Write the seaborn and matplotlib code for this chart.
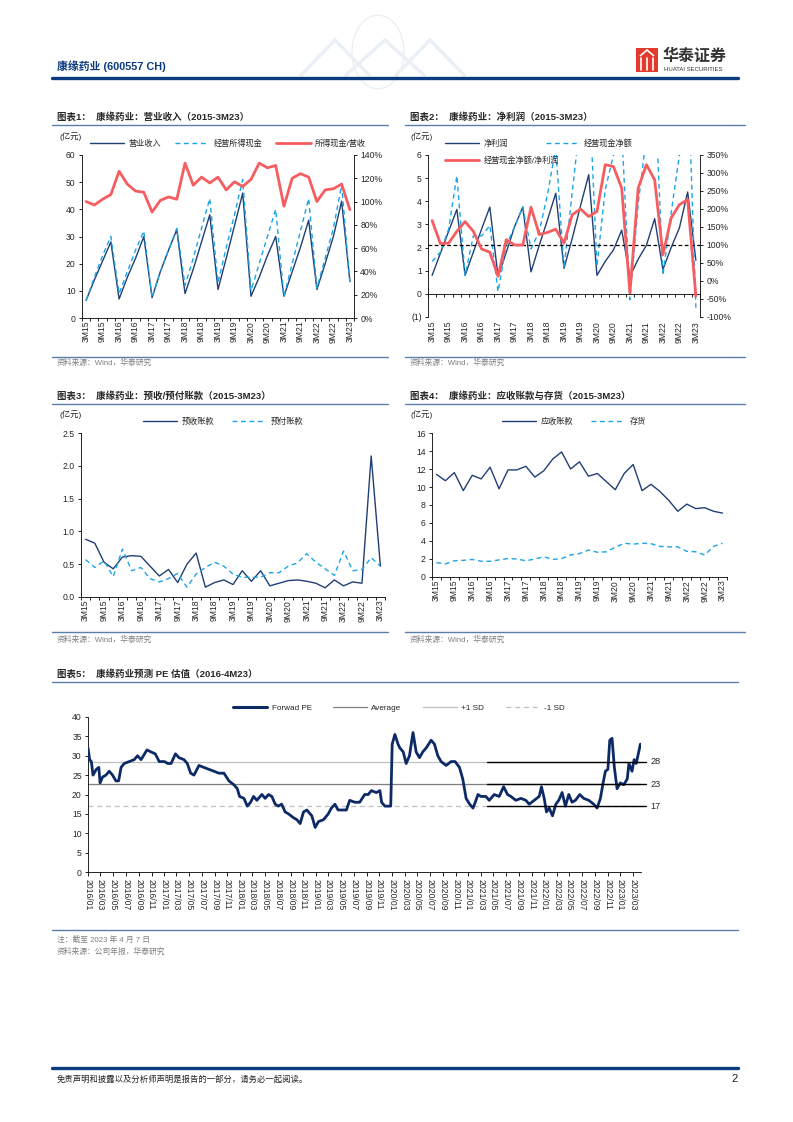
import numpy as np
import pandas as pd
import matplotlib
matplotlib.use("Agg")
import matplotlib.pyplot as plt
import seaborn as sns
from matplotlib.lines import Line2D
from matplotlib.patches import Rectangle, Polygon, Circle

sns.set_theme(style="ticks")
plt.rcParams["font.family"] = ["Liberation Sans", "Noto Sans CJK SC", "DejaVu Sans"]
plt.rcParams["axes.unicode_minus"] = False

W, H = 793, 1122

# ------------------------------------------------------------------ data
quarter_idx = list(range(33))
tick_labels = ["3M15", "9M15", "3M16", "9M16", "3M17", "9M17", "3M18", "9M18", "3M19",
               "9M19", "3M20", "9M20", "3M21", "9M21", "3M22", "9M22", "3M23"]

# Chart 1 (亿元, %)
revenue = [6.5, 14, 21, 28, 7, 15, 22, 30, 7.5, 17, 25, 32.5, 9, 18, 28, 38,
           10.5, 22, 34, 46, 8, 15, 23, 30, 8, 17, 26, 36, 10.5, 20, 30, 43, 13.5]
cash_received = [6.5, 15, 23, 30, 9, 17, 25, 32, 7.5, 17, 25, 33, 12, 22, 33, 44,
                 13, 26, 38, 51, 10, 20, 30, 40, 8, 20, 32, 44, 11, 22, 33, 49, 13]
cash_rev_ratio = [100, 97, 102, 106, 126, 115, 109, 108, 91, 101, 104, 102, 133, 114, 121, 116,
                  121, 110, 117, 113, 119, 133, 129, 131, 96, 120, 124, 121, 100, 110, 111, 115, 93]

# Chart 2
net_profit = [0.8, 1.75, 2.7, 3.65, 0.8, 1.8, 2.8, 3.75, 0.75, 1.8, 2.9, 3.75, 0.95, 2.1, 3.2, 4.35,
              1.1, 2.4, 3.8, 5.15, 0.8, 1.4, 1.9, 2.75, 0.75, 1.5, 2.1, 3.25, 1.05, 2.0, 2.85, 4.4, 1.45]
op_cash = [1.4, 1.8, 2.8, 5.1, 0.8, 2.5, 2.5, 2.95, 0.1, 2.1, 2.9, 3.75, 1.95, 2.7, 4.3, 6.3,
           1.1, 4.4, 7.6, 9.2, 1.2, 4.5, 6.0, 7.1, -0.25, 3.9, 6.8, 9.1, 0.8, 3.5, 6.0, 9.9, -0.6]
cash_profit_ratio = [168, 104, 105, 138, 165, 138, 89, 80, 13, 115, 100, 100, 205, 129, 135, 144,
                     105, 184, 200, 179, 193, 323, 318, 258, -33, 258, 323, 281, 73, 175, 212, 226, -42]

# Chart 3
adv_received = [0.88, 0.82, 0.53, 0.43, 0.61, 0.63, 0.62, 0.47, 0.32, 0.42, 0.22, 0.50, 0.67, 0.15, 0.22, 0.26,
                0.19, 0.40, 0.24, 0.40, 0.17, 0.21, 0.25, 0.26, 0.24, 0.21, 0.14, 0.26, 0.17, 0.23, 0.21, 2.15, 0.47]
prepayments = [0.57, 0.45, 0.55, 0.31, 0.73, 0.40, 0.45, 0.28, 0.23, 0.28, 0.36, 0.15, 0.35, 0.45, 0.53, 0.47,
               0.35, 0.30, 0.30, 0.30, 0.37, 0.37, 0.47, 0.52, 0.66, 0.53, 0.43, 0.33, 0.70, 0.40, 0.42, 0.60, 0.47]

# Chart 4
receivables = [11.4, 10.7, 11.6, 9.6, 11.3, 10.9, 12.2, 9.8, 11.9, 11.9, 12.3, 11.1, 11.8, 13.1, 13.9, 12.0,
               12.8, 11.2, 11.5, 10.6, 9.7, 11.5, 12.5, 9.6, 10.3, 9.5, 8.5, 7.3, 8.1, 7.6, 7.7, 7.3, 7.1]
inventory = [1.6, 1.45, 1.8, 1.85, 1.95, 1.75, 1.75, 1.9, 2.05, 2.0, 1.8, 2.0, 2.25, 1.95, 2.05, 2.45,
             2.6, 3.0, 2.75, 2.8, 3.3, 3.75, 3.65, 3.75, 3.7, 3.4, 3.35, 3.35, 2.85, 2.8, 2.45, 3.4, 3.75]

# Chart 5: forward PE
pe_dates = [
    "2016-01-01", "2016-01-09", "2016-01-17", "2016-01-25", "2016-02-10", "2016-02-22", "2016-02-28",
    "2016-03-11", "2016-03-27", "2016-04-12", "2016-04-28", "2016-05-14", "2016-05-27", "2016-06-08",
    "2016-06-23", "2016-07-17", "2016-08-10", "2016-08-26", "2016-09-12", "2016-10-10", "2016-10-29",
    "2016-11-19", "2016-12-08", "2017-01-02", "2017-01-18", "2017-02-03", "2017-02-24", "2017-03-13",
    "2017-04-06", "2017-04-22", "2017-05-08", "2017-05-24", "2017-06-17", "2017-07-10", "2017-08-04",
    "2017-08-28", "2017-09-21", "2017-10-15", "2017-11-08", "2017-12-02", "2017-12-18", "2017-12-29",
    "2018-01-19", "2018-02-04", "2018-02-20", "2018-03-06", "2018-03-22", "2018-04-15", "2018-05-01",
    "2018-05-17", "2018-06-02", "2018-06-18", "2018-07-03", "2018-07-19", "2018-08-05", "2018-08-21",
    "2018-09-14", "2018-09-30", "2018-10-16", "2018-11-01", "2018-11-17", "2018-12-11", "2018-12-27",
    "2019-01-12", "2019-02-05", "2019-02-28", "2019-03-15", "2019-04-01", "2019-04-16", "2019-05-02",
    "2019-05-26", "2019-06-11", "2019-07-05", "2019-07-29", "2019-08-22", "2019-09-08", "2019-09-23",
    "2019-10-17", "2019-11-03", "2019-11-11", "2019-11-27", "2019-12-12", "2019-12-25", "2020-01-01",
    "2020-01-14", "2020-01-29", "2020-02-07", "2020-02-23", "2020-03-08", "2020-03-24", "2020-04-10",
    "2020-04-25", "2020-05-11", "2020-05-27", "2020-06-12", "2020-07-06", "2020-07-22", "2020-08-07",
    "2020-08-23", "2020-09-16", "2020-10-10", "2020-10-29", "2020-11-19", "2020-12-05", "2020-12-21",
    "2021-01-07", "2021-01-23", "2021-02-03", "2021-02-16", "2021-03-02", "2021-03-26", "2021-04-11",
    "2021-05-05", "2021-05-29", "2021-06-19", "2021-07-08", "2021-07-24", "2021-08-17", "2021-09-10",
    "2021-10-04", "2021-10-20", "2021-11-13", "2021-12-07", "2021-12-18", "2021-12-31", "2022-01-11",
    "2022-01-24", "2022-02-09", "2022-02-25", "2022-03-11", "2022-03-27", "2022-04-12", "2022-04-28",
    "2022-05-14", "2022-05-30", "2022-06-20", "2022-07-09", "2022-08-02", "2022-08-26", "2022-09-11",
    "2022-09-27", "2022-10-10", "2022-10-21", "2022-11-02", "2022-11-11", "2022-11-22", "2022-12-03",
    "2022-12-16", "2023-01-01", "2023-01-17", "2023-02-03", "2023-02-11", "2023-02-26", "2023-03-08",
    "2023-03-18", "2023-04-07"]
pe_values = [
    32, 29, 28.5, 25, 26.5, 27, 23,
    24.5, 25, 26, 25, 23.5, 23.5, 27,
    28, 28.5, 29, 30, 29, 31.5, 31,
    30.5, 28.5, 28.5, 28, 28, 30.5, 29.5,
    29, 28, 25.5, 25, 27.5, 27, 26.5,
    26, 25.5, 25.5, 23.5, 22.5, 21.5, 19.5,
    19, 17, 18, 19.5, 18.5, 20, 19,
    20, 19.5, 17.5, 17, 17.5, 15.5, 15,
    14, 13.5, 12.5, 15.5, 16, 14.5, 11.5,
    13, 13.5, 15, 16.5, 17.5, 16, 16,
    16, 18.5, 18, 18, 20, 20, 21,
    20.5, 21, 18, 17, 17, 17, 33,
    35.5, 33, 32, 31, 28, 30, 36,
    31, 29.5, 31, 32, 34, 33, 30,
    28.5, 27.5, 28.5, 28.5, 27, 24, 19,
    17.5, 16.5, 18, 20, 19.5, 19.5, 18.5,
    20, 19.5, 22, 20, 19.5, 18.5, 19,
    18.5, 17.5, 18.5, 19.5, 22, 19, 15.5,
    16.5, 14.5, 17.5, 18.5, 20.5, 17, 20,
    18, 18.5, 20, 19, 18.5, 17.5, 16.5,
    19, 23, 26, 26.5, 34, 34.5, 27,
    21.5, 23, 22.5, 24, 28, 26, 29,
    28, 33]
pe_mean = 22.7
pe_sd = 5.7
pe_ticks = pd.date_range("2016-01-01", "2023-03-01", freq="2MS")

# ------------------------------------------------------------------ styling
NAVY = "#203F74"
LBLUE = "#1CA5E6"
RED = "#F65D61"
PE_NAVY = "#0E2A66"
TITLE_LINE = "#5B7DAA"
DARKBLUE = "#0B3A7E"
GREY_TXT = "#7F7F7F"
DASH = (0, (3.5, 2.6))
TICK_FS = 6.2
LEG_FS = 5.9

fig = plt.figure(figsize=(W / 100, H / 100), dpi=100)


def fx(x):
    return x / W


def fy(y):
    return 1 - y / H


def px_ax(l, t, r, b):
    return fig.add_axes([l / W, 1 - b / H, (r - l) / W, (b - t) / H])


def hline(x0, x1, y, color, lw):
    fig.add_artist(Line2D([fx(x0), fx(x1)], [fy(y), fy(y)], transform=fig.transFigure,
                          color=color, lw=lw))


def ftext(x, y, s, **kw):
    kw.setdefault("va", "center")
    fig.text(fx(x), fy(y), s, **kw)


def base_spines(ax, right=False):
    for side in ["top", "right", "left", "bottom"]:
        ax.spines[side].set_visible(False)
    ax.spines["left"].set_visible(not right)
    ax.spines["right"].set_visible(right)
    if not right:
        ax.spines["bottom"].set_visible(True)
    for s in ax.spines.values():
        s.set_color("black")
        s.set_linewidth(0.6)
    ax.tick_params(axis="y", labelsize=TICK_FS, length=2.5, width=0.6, pad=2, color="black")


def style_quarter_x(ax, pad=2):
    ax.set_xlim(-0.5, 32.5)
    ax.set_xticks(quarter_idx[::2])
    ax.set_xticklabels(tick_labels, rotation=90, fontsize=TICK_FS)
    ax.set_xticks(np.arange(-0.5, 33.0, 1.0), minor=True)
    ax.tick_params(axis="x", which="major", length=0, pad=pad)
    ax.tick_params(axis="x", which="minor", length=2.5, width=0.6, color="black", direction="out")
    ax.set_xlabel("")
    ax.set_ylabel("")


def legend_row(items, x, y, colspacing=1.6):
    handles = [Line2D([], [], color=c, lw=lw, linestyle=ls) for (_, c, lw, ls) in items]
    labels = [t for (t, _, _, _) in items]
    fig.legend(handles, labels, loc="center left", bbox_to_anchor=(fx(x), fy(y)),
               ncol=len(items), frameon=False, fontsize=LEG_FS, handlelength=4.2,
               handletextpad=0.5, columnspacing=colspacing, borderaxespad=0, borderpad=0)


# ------------------------------------------------------------------ header
ftext(57, 66, "康缘药业 (600557 CH)", fontsize=7.8, fontweight="bold", color=DARKBLUE)
hline(52, 738, 77.5, DARKBLUE, 2.4)
# faint globe / chevron watermark
fig.add_artist(Circle((fx(378), fy(52)), 26 / W, transform=fig.transFigure, fill=False,
                      ec="#E6ECF2", lw=0.8))
for (a, b, c) in [(300, 335, 370), (345, 385, 425), (395, 430, 465)]:
    fig.add_artist(Polygon([[fx(a), fy(76)], [fx(b), fy(40)], [fx(c), fy(76)]], closed=False,
                           fill=False, transform=fig.transFigure, ec="#EAF0F6", lw=2.5))
# logo
fig.add_artist(Rectangle((fx(636), fy(72)), 22 / W, 24 / H, transform=fig.transFigure,
                         fc="#E23B2E", ec="none"))
for xx in (641, 647, 653):
    fig.add_artist(Line2D([fx(xx), fx(xx)], [fy(58), fy(70)], transform=fig.transFigure,
                          color="white", lw=1.2))
fig.add_artist(Polygon([[fx(640), fy(56)], [fx(647), fy(50)], [fx(654), fy(56)]], closed=False,
                       fill=False, transform=fig.transFigure, ec="white", lw=1.2))
ftext(663, 56, "华泰证券", fontsize=11.5, fontweight="bold", color="#333333",
      family=["Noto Sans CJK SC"])
ftext(664, 69.5, "HUATAI SECURITIES", fontsize=4.3, color="#333333")

# ------------------------------------------------------------------ chart 1
ftext(57, 117, "图表1：  康缘药业：营业收入（2015-3M23）", fontsize=6.8, fontweight="bold")
hline(52, 388, 124.5, TITLE_LINE, 1.0)
ftext(60, 137, "(亿元)", fontsize=6.0)
legend_row([("营业收入", NAVY, 1.0, "-"), ("经营所得现金", LBLUE, 1.0, DASH),
            ("所得现金/营收", RED, 2.0, "-")], 90, 143.5, colspacing=1.7)

ax1 = px_ax(82, 155, 354, 318)
sns.lineplot(x=quarter_idx, y=revenue, ax=ax1, color=NAVY, lw=1.0, legend=False)
sns.lineplot(x=quarter_idx, y=cash_received, ax=ax1, color=LBLUE, lw=1.0, linestyle=DASH,
             legend=False)
ax1.set_ylim(0, 60)
ax1.set_yticks(range(0, 61, 10))
base_spines(ax1)
style_quarter_x(ax1)
ax1b = ax1.twinx()
sns.lineplot(x=quarter_idx, y=cash_rev_ratio, ax=ax1b, color=RED, lw=2.0, legend=False)
ax1b.set_ylim(0, 140)
ax1b.set_yticks(range(0, 141, 20))
ax1b.set_yticklabels([f"{v}%" for v in range(0, 141, 20)])
base_spines(ax1b, right=True)
ax1b.set_ylabel("")
ax1b.set_xlim(-0.5, 32.5)

hline(52, 388, 357, TITLE_LINE, 1.0)
ftext(57, 363, "资料来源：Wind，华泰研究", fontsize=5.6, color=GREY_TXT)

# ------------------------------------------------------------------ chart 2
ftext(410, 117, "图表2：  康缘药业：净利润（2015-3M23）", fontsize=6.8, fontweight="bold")
hline(405, 745, 124.5, TITLE_LINE, 1.0)
ftext(410, 137, "(亿元)", fontsize=6.0)
legend_row([("净利润", NAVY, 1.0, "-"), ("经营现金净额", LBLUE, 1.0, DASH)], 445, 143.5,
           colspacing=4.6)
legend_row([("经营现金净额/净利润", RED, 2.0, "-")], 445, 160.5)

ax2 = px_ax(428, 155, 700, 317)
sns.lineplot(x=quarter_idx, y=net_profit, ax=ax2, color=NAVY, lw=1.0, legend=False)
sns.lineplot(x=quarter_idx, y=op_cash, ax=ax2, color=LBLUE, lw=1.0, linestyle=DASH,
             legend=False)
ax2.set_ylim(-1, 6)
ax2.set_yticks(range(-1, 7))
ax2.set_yticklabels(["(1)"] + [str(v) for v in range(0, 7)])
base_spines(ax2)
ax2.spines["bottom"].set_position(("data", 0))
style_quarter_x(ax2, pad=19.5)
ax2b = ax2.twinx()
ax2b.axhline(100, color="black", lw=0.9, linestyle=(0, (3, 2)))
sns.lineplot(x=quarter_idx, y=cash_profit_ratio, ax=ax2b, color=RED, lw=2.0, legend=False)
ax2b.set_ylim(-100, 350)
ax2b.set_yticks(range(-100, 351, 50))
ax2b.set_yticklabels([f"{v}%" for v in range(-100, 351, 50)])
base_spines(ax2b, right=True)
ax2b.set_ylabel("")
ax2b.set_xlim(-0.5, 32.5)

hline(405, 745, 357, TITLE_LINE, 1.0)
ftext(410, 363, "资料来源：Wind，华泰研究", fontsize=5.6, color=GREY_TXT)

# ------------------------------------------------------------------ chart 3
ftext(57, 396, "图表3：  康缘药业：预收/预付账款（2015-3M23）", fontsize=6.8, fontweight="bold")
hline(52, 388, 403.5, TITLE_LINE, 1.0)
ftext(60, 415, "(亿元)", fontsize=6.0)
legend_row([("预收账款", NAVY, 1.0, "-"), ("预付账款", LBLUE, 1.0, DASH)], 143, 422,
           colspacing=2.2)

ax3 = px_ax(81, 433, 385, 597)
sns.lineplot(x=quarter_idx, y=adv_received, ax=ax3, color=NAVY, lw=1.0, legend=False)
sns.lineplot(x=quarter_idx, y=prepayments, ax=ax3, color=LBLUE, lw=1.0, linestyle=DASH,
             legend=False)
ax3.set_ylim(0, 2.5)
ax3.set_yticks(np.arange(0, 2.51, 0.5))
ax3.set_yticklabels([f"{v:.1f}" for v in np.arange(0, 2.51, 0.5)])
base_spines(ax3)
style_quarter_x(ax3)

hline(52, 388, 632, TITLE_LINE, 1.0)
ftext(57, 639.5, "资料来源：Wind，华泰研究", fontsize=5.6, color=GREY_TXT)

# ------------------------------------------------------------------ chart 4
ftext(410, 396, "图表4：  康缘药业：应收账款与存货（2015-3M23）", fontsize=6.8, fontweight="bold")
hline(405, 745, 403.5, TITLE_LINE, 1.0)
ftext(410, 415, "(亿元)", fontsize=6.0)
legend_row([("应收账款", NAVY, 1.0, "-"), ("存货", LBLUE, 1.0, DASH)], 502, 422,
           colspacing=2.2)

ax4 = px_ax(432, 433, 727, 577)
sns.lineplot(x=quarter_idx, y=receivables, ax=ax4, color=NAVY, lw=1.0, legend=False)
sns.lineplot(x=quarter_idx, y=inventory, ax=ax4, color=LBLUE, lw=1.0, linestyle=DASH,
             legend=False)
ax4.set_ylim(0, 16)
ax4.set_yticks(range(0, 17, 2))
base_spines(ax4)
style_quarter_x(ax4)

hline(405, 745, 632, TITLE_LINE, 1.0)
ftext(410, 639.5, "资料来源：Wind，华泰研究", fontsize=5.6, color=GREY_TXT)

# ------------------------------------------------------------------ chart 5
ftext(57, 674, "图表5：  康缘药业预测 PE 估值（2016-4M23）", fontsize=6.8, fontweight="bold")
hline(52, 738, 681.5, TITLE_LINE, 1.0)

pe_df = pd.DataFrame({"date": pd.to_datetime(pe_dates), "pe": pe_values})
ax5 = px_ax(88, 717, 641, 872)
ax5.axhline(pe_mean + pe_sd, color="#BFBFBF", lw=0.9, zorder=1)
ax5.axhline(pe_mean, color="#7F7F7F", lw=0.9, zorder=1)
ax5.axhline(pe_mean - pe_sd, color="#BFBFBF", lw=0.9, linestyle=(0, (4, 3)), zorder=1)
sns.lineplot(data=pe_df, x="date", y="pe", ax=ax5, color=PE_NAVY, lw=2.0, legend=False,
             zorder=3)
seg_x = pd.to_datetime(["2021-04-01", "2023-05-05"])
label_x = pd.to_datetime("2023-05-25")
for v in (pe_mean + pe_sd, pe_mean, pe_mean - pe_sd):
    ax5.plot(seg_x, [v, v], color="black", lw=1.0, clip_on=False, zorder=4)
    ax5.text(label_x, v, f"{round(v)}", fontsize=6.6, va="center", ha="left", clip_on=False)
ax5.set_xlim(pd.Timestamp("2016-01-01"), pd.Timestamp("2023-04-10"))
ax5.set_ylim(0, 40)
ax5.set_yticks(range(0, 41, 5))
ax5.set_xticks(pe_ticks)
ax5.set_xticklabels([d.strftime("%Y/%m") for d in pe_ticks], rotation=270, fontsize=TICK_FS)
ax5.tick_params(axis="x", length=3, width=0.6, color="black", pad=2)
base_spines(ax5)
ax5.set_xlabel("")
ax5.set_ylabel("")

legend_row([("Forwad PE", PE_NAVY, 2.2, "-"), ("Average", "#7F7F7F", 0.9, "-"),
            ("+1 SD", "#BFBFBF", 0.9, "-"), ("-1 SD", "#BFBFBF", 0.9, (0, (4, 3)))],
           233, 708, colspacing=2.6)

hline(52, 738, 930, TITLE_LINE, 1.0)
ftext(57, 940, "注：截至 2023 年 4 月 7 日", fontsize=5.6, color=GREY_TXT)
ftext(57, 952, "资料来源：公司年报，华泰研究", fontsize=5.6, color=GREY_TXT)

# ------------------------------------------------------------------ footer
hline(52, 738, 1068, DARKBLUE, 2.4)
ftext(57, 1079, "免责声明和披露以及分析师声明是报告的一部分，请务必一起阅读。", fontsize=6.0,
      color="#222222")
ftext(731, 1079, "2", fontsize=8.0, color="#222222")

fig.savefig("out.png", dpi=100)
